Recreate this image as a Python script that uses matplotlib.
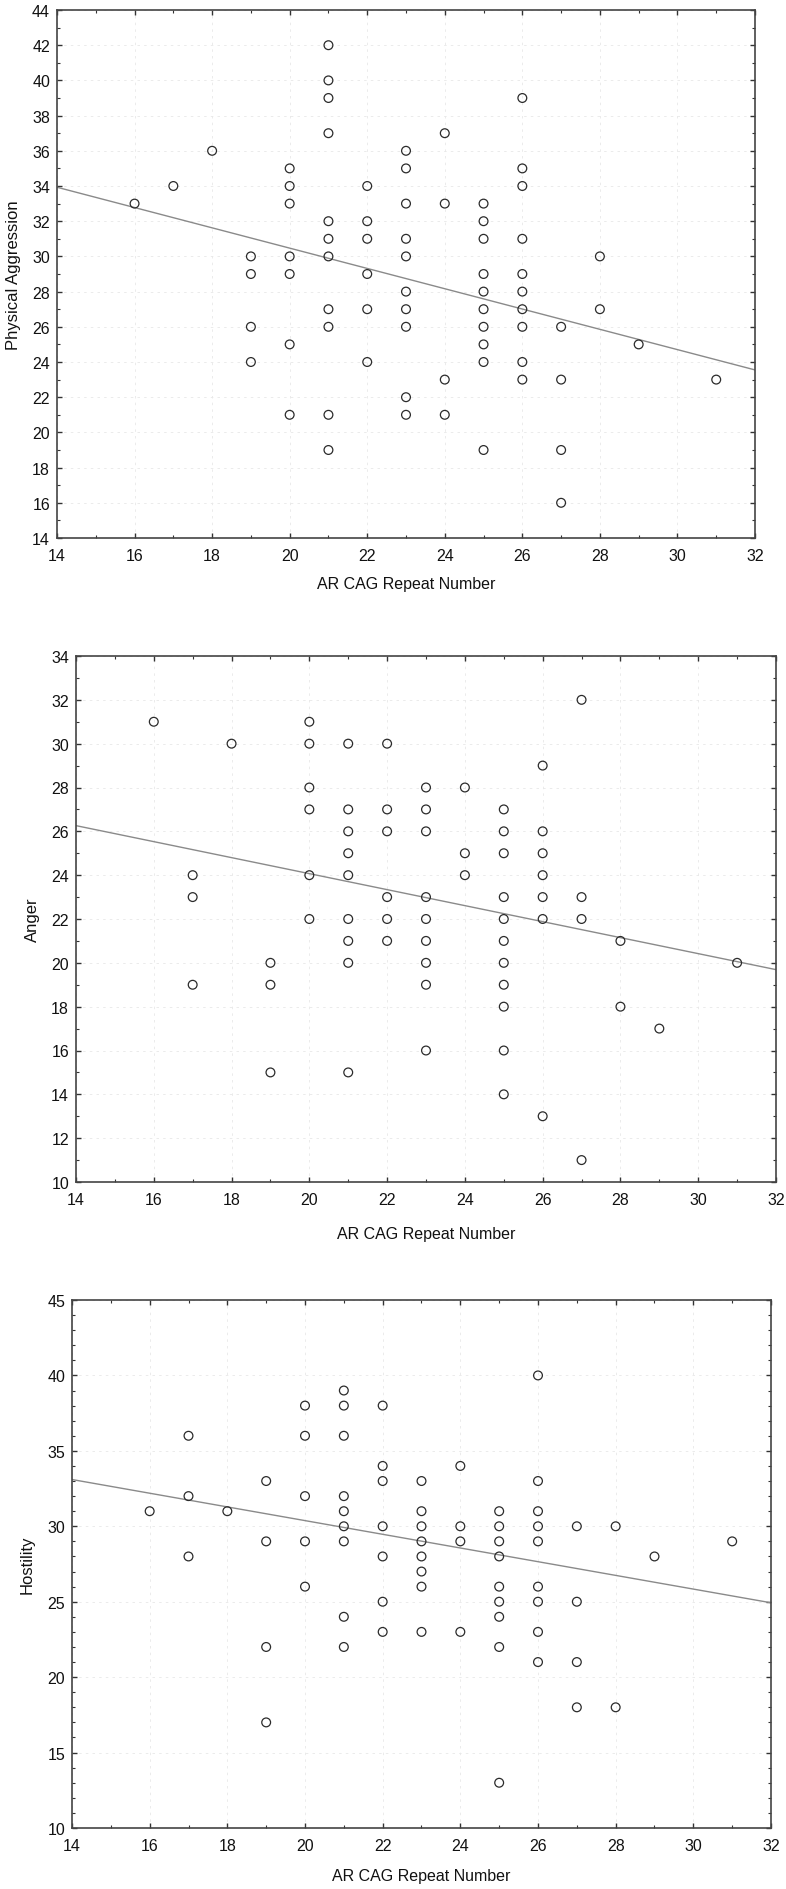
import matplotlib
matplotlib.use("Agg")
import matplotlib.pyplot as plt
import numpy as np
from matplotlib.ticker import MultipleLocator

plt.rcParams['font.family'] = ['Liberation Sans', 'DejaVu Sans']

# CAG repeat number and scores
cag_pa = [16, 17, 18,
          19, 19, 19, 19,
          20, 20, 20, 20, 20, 20, 20,
          21, 21, 21, 21, 21, 21, 21, 21, 21, 21, 21,
          22, 22, 22, 22, 22, 22,
          23, 23, 23, 23, 23, 23, 23, 23, 23, 23,
          24, 24, 24, 24,
          25, 25, 25, 25, 25, 25, 25, 25, 25, 25,
          26, 26, 26, 26, 26, 26, 26, 26, 26, 26,
          27, 27, 27, 27,
          28, 28, 29, 31]
physical_aggression = [33, 34, 36,
                       30, 29, 26, 24,
                       35, 34, 33, 30, 29, 25, 21,
                       42, 40, 39, 37, 32, 31, 30, 27, 26, 21, 19,
                       34, 32, 31, 29, 27, 24,
                       36, 35, 33, 31, 30, 28, 27, 26, 22, 21,
                       37, 33, 23, 21,
                       33, 32, 31, 29, 28, 27, 26, 25, 24, 19,
                       39, 35, 34, 31, 29, 28, 27, 26, 24, 23,
                       26, 23, 19, 16,
                       30, 27, 25, 23]

cag_anger = [16, 17, 17, 17, 18,
             19, 19, 19,
             20, 20, 20, 20, 20, 20,
             21, 21, 21, 21, 21, 21, 21, 21, 21,
             22, 22, 22, 22, 22, 22,
             23, 23, 23, 23, 23, 23, 23, 23, 23,
             24, 24, 24,
             25, 25, 25, 25, 25, 25, 25, 25, 25, 25, 25,
             26, 26, 26, 26, 26, 26, 26,
             27, 27, 27, 27,
             28, 28, 29, 31]
anger = [31, 24, 23, 19, 30,
         20, 19, 15,
         31, 30, 28, 27, 24, 22,
         30, 27, 26, 25, 24, 22, 21, 20, 15,
         30, 27, 26, 23, 22, 21,
         28, 27, 26, 23, 22, 21, 20, 19, 16,
         28, 25, 24,
         27, 26, 25, 23, 22, 21, 20, 19, 18, 16, 14,
         29, 26, 25, 24, 23, 22, 13,
         32, 23, 22, 11,
         21, 18, 17, 20]

cag_hostility = [16, 17, 17, 17, 18,
                 19, 19, 19, 19,
                 20, 20, 20, 20, 20,
                 21, 21, 21, 21, 21, 21, 21, 21, 21,
                 22, 22, 22, 22, 22, 22, 22,
                 23, 23, 23, 23, 23, 23, 23, 23,
                 24, 24, 24, 24,
                 25, 25, 25, 25, 25, 25, 25, 25, 25,
                 26, 26, 26, 26, 26, 26, 26, 26, 26,
                 27, 27, 27, 27,
                 28, 28, 29, 31]
hostility = [31, 36, 32, 28, 31,
             33, 29, 22, 17,
             38, 36, 32, 29, 26,
             39, 38, 36, 32, 31, 30, 29, 24, 22,
             38, 34, 33, 30, 28, 25, 23,
             33, 31, 30, 29, 28, 27, 26, 23,
             34, 30, 29, 23,
             31, 30, 29, 28, 26, 25, 24, 22, 13,
             40, 33, 31, 30, 29, 26, 25, 23, 21,
             30, 25, 21, 18,
             30, 18, 28, 29]

# regression lines as drawn (value at x=14 and x=32)
fit_x = [14, 32]
fit_pa = [33.93, 23.55]
fit_anger = [26.26, 19.69]
fit_hostility = [33.1, 24.93]

W, H = 786, 1890

panels = [
    # x, y, fit, ylabel, ylim, ymajor, box(l, r, t, b), xlabel_y, ylabel_x
    (cag_pa, physical_aggression, fit_pa, 'Physical Aggression', (14, 44), 2, (57, 755, 11, 539), 585, 14),
    (cag_anger, anger, fit_anger, 'Anger', (10, 34), 2, (76, 776, 657, 1183), 1235, 32),
    (cag_hostility, hostility, fit_hostility, 'Hostility', (10, 45), 5, (72, 771, 1301, 1829), 1877, 27),
]

fig = plt.figure(figsize=(W / 100, H / 100), dpi=100)

for xs, ys, fit, ylab, ylim, ymaj, box, xlab_y, ylab_x in panels:
    l, r, t, b = box
    ax = fig.add_axes([l / W, 1 - b / H, (r - l) / W, (b - t) / H])
    ax.plot(fit_x, fit, color='#8a8a8a', lw=1.0, zorder=2)
    ax.scatter(xs, ys, s=40, facecolors='none', edgecolors='#2b2b2b', linewidths=0.9, zorder=3)

    ax.set_xlim(14, 32)
    ax.set_ylim(*ylim)
    ax.xaxis.set_major_locator(MultipleLocator(2))
    ax.xaxis.set_minor_locator(MultipleLocator(1))
    ax.yaxis.set_major_locator(MultipleLocator(ymaj))
    ax.yaxis.set_minor_locator(MultipleLocator(1))
    ax.tick_params(which='both', direction='in', top=True, right=True,
                   colors='#333333', labelcolor='#111111')
    ax.tick_params(which='major', length=3.5, width=1.0, labelsize=11.5)
    ax.tick_params(axis='x', which='major', pad=7)
    ax.tick_params(axis='y', which='major', pad=5)
    ax.tick_params(which='minor', length=2, width=0.8)
    ax.grid(True, which='major', color='#e8e8e8', lw=0.6, ls=(0, (3, 5)), zorder=0)
    for s in ax.spines.values():
        s.set_color('#444444')
        s.set_linewidth(1.2)

    ax.set_xlabel('AR CAG Repeat Number', fontsize=11.5, color='#111111')
    ax.xaxis.label.set_va('center')
    ax.xaxis.set_label_coords(0.5, (b - xlab_y) / (b - t))
    ax.set_ylabel(ylab, fontsize=12, color='#111111')
    ax.yaxis.label.set_va('center')
    ax.yaxis.set_label_coords((ylab_x - l) / (r - l), 0.5)

fig.savefig('out.png', dpi=100, facecolor='white')
